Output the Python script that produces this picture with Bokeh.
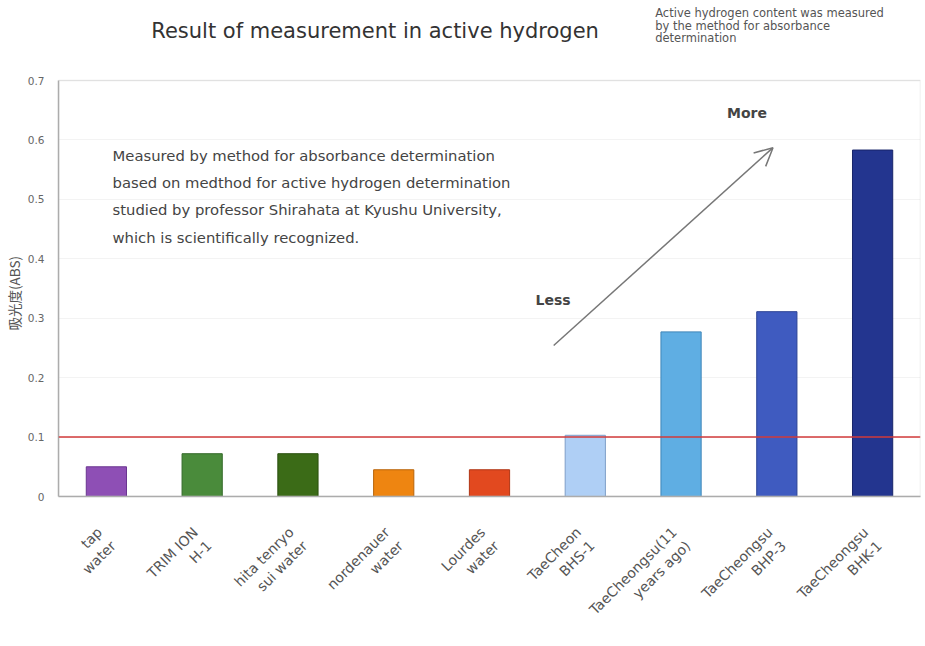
from bokeh.plotting import figure
from bokeh.models import Label, Span, Arrow, OpenHead, FixedTicker, ColumnDataSource, BoxAnnotation, Title
from bokeh.embed import file_html
from bokeh.resources import INLINE
import math

# ---- data ----
categories = ["tap\nwater", "TRIM ION\nH-1", "hita tenryo\nsui water", "nordenauer\nwater",
              "Lourdes\nwater", "TaeCheon\nBHS-1", "TaeCheongsu(11\nyears ago)",
              "TaeCheongsu\nBHP-3", "TaeCheongsu\nBHK-1"]
values = [0.050, 0.072, 0.072, 0.045, 0.045, 0.103, 0.277, 0.311, 0.583]
fill_colors = ["#8E4FB5", "#4A8B3B", "#3B6B17", "#EE8511", "#E2491F",
               "#AFCFF5", "#5FAEE3", "#3F5BC0", "#23358F"]
line_colors = ["#6A3590", "#356A2A", "#2A500F", "#B8650A", "#B03514",
               "#7F9FC8", "#3F86B8", "#2C4394", "#18256A"]
y_ticks = [0, 0.1, 0.2, 0.3, 0.4, 0.5, 0.6, 0.7]
y_tick_labels = ["0", "0.1", "0.2", "0.3", "0.4", "0.5", "0.6", "0.7"]
y_max = 0.7
threshold = 0.1

title_text = "Result of measurement  in active hydrogen"
note_lines = ["Active hydrogen content was measured",
              "by the method for absorbance",
              "determination"]
inner_lines = ["Measured by method for absorbance determination",
               "based on medthod for active hydrogen determination",
               "studied by professor Shirahata at Kyushu University,",
               "which is  scientifically recognized."]
y_label = "吸光度(ABS)"

FONT = "DejaVu Sans"

# frame extends above the 0.7 box so the titles can live inside the canvas
H = 646
frame_top_px, axis_px, box_top_px = 4, 496, 80
y_end = y_max * (axis_px - frame_top_px) / (axis_px - box_top_px)

p = figure(x_range=categories, y_range=(0, y_end), width=922, height=H,
           output_backend="svg", toolbar_location=None,
           min_border_left=58, min_border_right=2, min_border_top=frame_top_px,
           min_border_bottom=H - axis_px)
p.outline_line_color = None

src = ColumnDataSource(dict(cat=categories, val=values, fc=fill_colors, lc=line_colors))
p.vbar(x="cat", top="val", width=0.42, source=src, fill_color="fc", line_color="lc", line_width=1)

p.add_layout(Span(location=threshold, dimension="width", line_color="#d23a3a", line_width=1.6))
# plot-area border box (0 .. 0.7)
p.add_layout(BoxAnnotation(left=0, right=len(categories), bottom=0, top=y_max,
                           fill_alpha=0, line_color="#bbbbbb", line_width=1.5))

# axes
p.yaxis.ticker = FixedTicker(ticks=y_ticks)
p.yaxis.bounds = (0, y_max)
p.yaxis.major_label_overrides = {t: l for t, l in zip(y_ticks, y_tick_labels)}
p.yaxis.major_tick_line_color = None
p.yaxis.minor_tick_line_color = None
p.yaxis.axis_line_color = "#aaaaaa"
p.yaxis.axis_line_width = 1.5
p.yaxis.major_label_text_font = FONT
p.yaxis.major_label_text_font_size = "10.5px"
p.yaxis.major_label_text_color = "#666666"
p.yaxis.major_label_standoff = 8

# vertical y-axis title, placed alongside the 0..0.7 box
p.add_layout(Title(text=y_label, align="left", offset=166, text_font="Noto Sans CJK JP",
                   text_font_size="13.5px", text_font_style="normal", text_color="#555555",
                   standoff=2), "left")

p.xaxis.major_tick_line_color = None
p.xaxis.minor_tick_line_color = None
p.xaxis.axis_line_color = "#aaaaaa"
p.xaxis.axis_line_width = 1.5
p.xaxis.major_label_orientation = math.pi / 4
p.xaxis.major_label_text_font = FONT
p.xaxis.major_label_text_font_size = "14px"
p.xaxis.major_label_text_color = "#555555"
p.xaxis.major_label_standoff = 34

p.xgrid.grid_line_color = None
p.ygrid.grid_line_color = "#f3f3f3"
p.ygrid.bounds = (0, y_max)
p.ygrid.ticker = FixedTicker(ticks=y_ticks)

# annotations (positions in synthetic data coordinates)
p.add_layout(Label(x=3.34, y=0.784, text=title_text, text_font=FONT, text_font_size="21px",
                   text_color="#333333", text_align="center", text_baseline="middle"))
for i, t in enumerate(note_lines):
    p.add_layout(Label(x=6.23, y=0.813 - i * 0.0205, text=t, text_font=FONT,
                       text_font_size="11.5px", text_color="#555555", text_baseline="middle"))
for i, t in enumerate(inner_lines):
    p.add_layout(Label(x=0.564, y=0.574 - i * 0.0458, text=t, text_font=FONT,
                       text_font_size="14.8px", text_color="#444444", text_baseline="middle"))

p.add_layout(Arrow(x_start=5.17, y_start=0.254, x_end=7.46, y_end=0.587,
                   line_color="#777777", line_width=1.5,
                   end=OpenHead(size=18, line_color="#777777", line_width=1.5)))
p.add_layout(Label(x=4.98, y=0.330, text="Less", text_font=FONT, text_font_size="14px",
                   text_font_style="bold", text_color="#444444", text_baseline="middle"))
p.add_layout(Label(x=6.98, y=0.646, text="More", text_font=FONT, text_font_size="14px",
                   text_font_style="bold", text_color="#444444", text_baseline="middle"))

open("out.html", "w").write(file_html(p, INLINE))
